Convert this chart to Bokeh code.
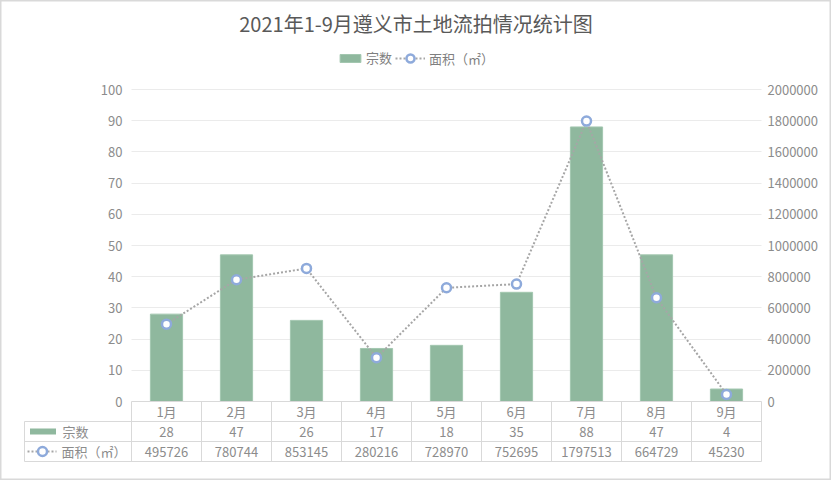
from bokeh.plotting import figure
from bokeh.models import (Range1d, LinearAxis, FixedTicker, BasicTickFormatter, Grid,
                          ColumnDataSource, Legend, LegendItem)
from bokeh.core.properties import value
from bokeh.embed import file_html
from bokeh.resources import INLINE

# ---- data ----
months = ["1月", "2月", "3月", "4月", "5月", "6月", "7月", "8月", "9月"]
counts = [28, 47, 26, 17, 18, 35, 88, 47, 4]
areas = [495726, 780744, 853145, 280216, 728970, 752695, 1797513, 664729, 45230]
left_ticks = list(range(0, 101, 10))
right_ticks = list(range(0, 2000001, 200000))
title_text = "2021年1-9月遵义市土地流拍情况统计图"
count_label = "宗数"
area_label = "面积（㎡）"

# ---- layout constants (pixels) ----
W, H = 831, 480
X0, CW = 131, 70          # left of category area, px per category
Y0, PPU = 401, 3.12       # y of zero, px per unit (left axis)
RATIO = 20000             # right axis units per left unit

def dx(px):
    return (px - X0) / CW

def dy(py):
    return (Y0 - py) / PPU

FONT = "Noto Sans CJK SC"
TXT = "#8c8c8c"
GRIDC = "#ebebeb"
TABC = "#d9d9d9"
BAR = "#8fb89e"
MARK = "#8eaadb"
LINE = "#a6a6a6"

p = figure(width=W, height=H, output_backend="svg", toolbar_location=None,
           x_axis_location=None, y_axis_location=None,
           x_range=Range1d(dx(0), dx(W)), y_range=Range1d(dy(H), dy(0)),
           min_border=0, min_border_left=0, min_border_right=0,
           min_border_top=0, min_border_bottom=0)
for g in p.grid:
    g.visible = False
p.outline_line_color = "#d9d9d9"
p.outline_line_width = 2
p.background_fill_color = "white"
p.border_fill_color = "white"
p.extra_y_ranges = {"area": Range1d(dy(H) * RATIO, dy(0) * RATIO)}

# grid
grid = Grid(dimension=1, ticker=FixedTicker(ticks=left_ticks[1:]),
            grid_line_color=GRIDC, grid_line_width=1, cross_bounds=(0, 9))
p.add_layout(grid)

# axes
lax = LinearAxis(ticker=FixedTicker(ticks=left_ticks), fixed_location=dx(122))
rax = LinearAxis(ticker=FixedTicker(ticks=right_ticks), y_range_name="area",
                 formatter=BasicTickFormatter(use_scientific=False), fixed_location=9)
for ax, so in ((lax, 0), (rax, 6)):
    ax.axis_line_color = None
    ax.major_tick_line_color = None
    ax.minor_tick_line_color = None
    ax.major_tick_in = 0
    ax.major_tick_out = 0
    ax.major_label_standoff = so
    ax.major_label_text_color = TXT
    ax.major_label_text_font = FONT
    ax.major_label_text_font_size = "13px"
p.add_layout(lax, "left")
p.add_layout(rax, "right")

xs = [i + 0.5 for i in range(len(months))]
src = ColumnDataSource(dict(x=xs, month=months, count=counts, area=areas,
                            count_s=[str(c) for c in counts], area_s=[str(a) for a in areas]))

bars = p.vbar(x="x", top="count", width=0.46, bottom=0, source=src,
              fill_color=BAR, line_color="#a3c7b0", line_width=1)
ln = p.line(x="x", y="area", source=src, y_range_name="area",
            line_color=LINE, line_width=2, line_dash="2 2")
mk = p.scatter(x="x", y="area", source=src, y_range_name="area", size=9,
               marker="circle", fill_color="white", line_color=MARK, line_width=2.5)

# ---- table ----
r1, r2, r3, r4 = dy(401), dy(421), dy(441), dy(461)
tl = dx(24)
p.segment(x0=[0, tl, tl, tl], x1=[9, 9, 9, 9], y0=[r1, r2, r3, r4], y1=[r1, r2, r3, r4],
          line_color=TABC, line_width=1)
vx = list(range(10))
p.segment(x0=vx + [tl], x1=vx + [tl], y0=[r1] * 10 + [r2], y1=[r4] * 10 + [r4],
          line_color=TABC, line_width=1)
for col, yy in (("month", (r1 + r2) / 2), ("count_s", (r2 + r3) / 2), ("area_s", (r3 + r4) / 2)):
    p.text(x="x", y=yy, text=col, source=src, text_align="center", text_baseline="middle",
           text_color=TXT, text_font=value(FONT), text_font_size="13px")

# row headers
p.rect(x=dx(42.5), y=(r2 + r3) / 2, width=26 / CW, height=6 / PPU, fill_color=BAR, line_color=None)
p.text(x=dx(62), y=[(r2 + r3) / 2], text=[count_label], text_align="left", text_baseline="middle",
       text_color=TXT, text_font=value(FONT), text_font_size="13px")
p.line(x=[dx(27), dx(56)], y=[(r3 + r4) / 2] * 2, line_color=LINE, line_width=2, line_dash="2 2")
p.scatter(x=[dx(42)], y=[(r3 + r4) / 2], size=9, marker="circle", fill_color="white",
          line_color=MARK, line_width=2.5)
p.text(x=dx(61), y=[(r3 + r4) / 2], text=[area_label], text_align="left", text_baseline="middle",
       text_color=TXT, text_font=value(FONT), text_font_size="13px")

# title
p.text(x=[dx(W / 2)], y=[dy(23)], text=[title_text], text_align="center", text_baseline="middle",
       text_color="#595959", text_font=value(FONT), text_font_size="20px")

# legends
leg1 = Legend(items=[LegendItem(label=count_label, renderers=[bars])],
              location=(337, H - 67), orientation="horizontal", glyph_width=26, glyph_height=10,
              label_standoff=3, padding=0, margin=0, spacing=0, border_line_color=None,
              background_fill_alpha=0, label_text_font=FONT, label_text_font_size="13px",
              label_text_color="#7f7f7f", label_height=10)
leg2 = Legend(items=[LegendItem(label=area_label, renderers=[ln, mk])],
              location=(395, H - 68), orientation="horizontal", glyph_width=30, glyph_height=20,
              label_standoff=4, padding=0, margin=0, spacing=0, border_line_color=None,
              background_fill_alpha=0, label_text_font=FONT, label_text_font_size="13px",
              label_text_color="#7f7f7f", label_height=20)
p.add_layout(leg1)
p.add_layout(leg2)

open("out.html", "w").write(file_html(p, INLINE))
